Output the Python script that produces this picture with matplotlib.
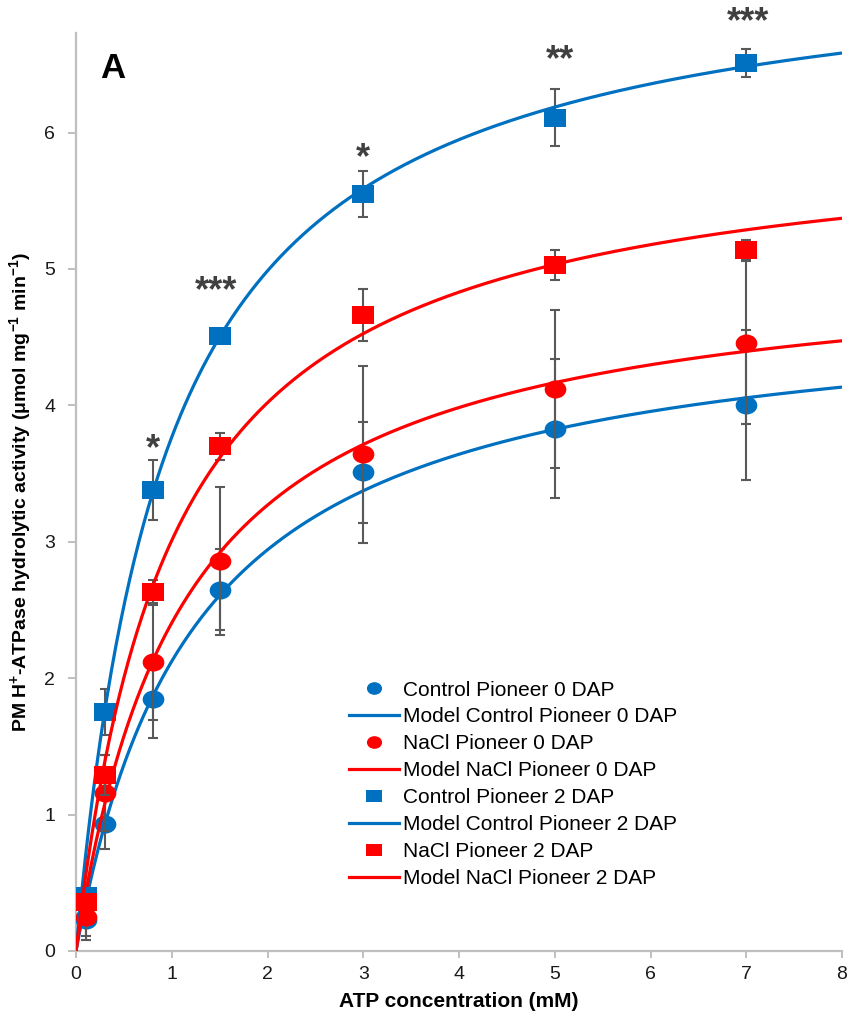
import numpy as np
import matplotlib
matplotlib.use("Agg")
import matplotlib.pyplot as plt
from matplotlib.path import Path
from matplotlib.lines import Line2D
import matplotlib.transforms as mtransforms

plt.rcParams['font.family'] = ['Liberation Sans', 'DejaVu Sans']
plt.rcParams['mathtext.fontset'] = 'custom'
plt.rcParams['mathtext.rm'] = 'Liberation Sans'
plt.rcParams['mathtext.bf'] = 'Liberation Sans:bold'
plt.rcParams['mathtext.it'] = 'Liberation Sans:italic'

# ---------------- data ----------------
atp_mM = [0.1, 0.3, 0.8, 1.5, 3, 5, 7]

control_0dap = [0.23, 0.93, 1.85, 2.65, 3.51, 3.83, 4.00]
control_0dap_err = [0.15, 0.18, 0.29, 0.30, 0.37, 0.51, 0.55]

nacl_0dap = [0.25, 1.16, 2.12, 2.86, 3.64, 4.12, 4.46]
nacl_0dap_err = [0.14, 0.28, 0.43, 0.54, 0.65, 0.58, 0.60]

control_2dap = [0.40, 1.75, 3.38, 4.51, 5.55, 6.11, 6.51]
control_2dap_err = [0.05, 0.17, 0.22, 0.05, 0.17, 0.21, 0.10]

nacl_2dap = [0.36, 1.29, 2.63, 3.70, 4.66, 5.03, 5.14]
nacl_2dap_err = [0.05, 0.15, 0.09, 0.10, 0.19, 0.11, 0.07]

# Michaelis-Menten model parameters (Vmax, Km) for each series
model_vmax = [4.78, 5.10, 7.37, 6.05]
model_km = [1.25, 1.12, 0.956, 1.01]

series_names = ["Control Pioneer 0 DAP", "NaCl Pioneer 0 DAP",
                "Control Pioneer 2 DAP", "NaCl Pioneer 2 DAP"]

sig_labels = ["*", "***", "*", "**", "***"]
sig_x = [0.8, 1.46, 3.0, 5.05, 7.02]
sig_y = [3.76, 4.92, 5.89, 6.61, 6.89]

x_ticks = [0, 1, 2, 3, 4, 5, 6, 7, 8]
y_ticks = [0, 1, 2, 3, 4, 5, 6]

# ---------------- style ----------------
BLUE = "#0070C0"
RED = "#FF0000"
GRID_GRAY = "#BFBFBF"
ERR_GRAY = "#595959"

ellipse = mtransforms.Affine2D().scale(1.2, 1.0).transform_path(Path.unit_circle())
rect = Path([(-0.6, -0.5), (0.6, -0.5), (0.6, 0.5), (-0.6, 0.5), (-0.6, -0.5)],
            [Path.MOVETO, Path.LINETO, Path.LINETO, Path.LINETO, Path.CLOSEPOLY])

values = [control_0dap, nacl_0dap, control_2dap, nacl_2dap]
errors = [control_0dap_err, nacl_0dap_err, control_2dap_err, nacl_2dap_err]
colors = [BLUE, RED, BLUE, RED]
markers = [ellipse, ellipse, rect, rect]

fig = plt.figure(figsize=(8.56, 10.16), dpi=100)
ax = fig.add_axes([0.0888, 0.0640, 0.8949, 0.9035])

xs = np.linspace(0, 8, 500)
handles, labels = [], []
for i in range(4):
    z = 3 + i * 3
    ax.errorbar(atp_mM, values[i], yerr=errors[i], fmt='none', ecolor=ERR_GRAY,
                elinewidth=1.5, capsize=3.8, capthick=1.5, zorder=z)
    ax.plot(atp_mM, values[i], linestyle='none', marker=markers[i], ms=15.6,
            color=colors[i], mec=colors[i], mew=0, zorder=z + 1)
    model = model_vmax[i] * xs / (model_km[i] + xs)
    ax.plot(xs, model, color=colors[i], lw=2.3, zorder=z + 2, solid_capstyle='butt')
    handles.append(Line2D([], [], linestyle='none', marker=markers[i], ms=15.6,
                          color=colors[i], mew=0))
    labels.append(series_names[i])
    handles.append(Line2D([], [], color=colors[i], lw=2.3))
    labels.append("Model " + series_names[i])

ax.set_xlim(0, 8)
ax.set_ylim(0, 6.73)
ax.set_xticks(x_ticks)
ax.set_yticks(y_ticks)
ax.tick_params(axis='both', direction='out', color=GRID_GRAY, width=1.4,
               labelsize=14, labelcolor='#1a1a1a')
ax.tick_params(axis='y', length=6, pad=9)
ax.tick_params(axis='x', length=5, pad=6)
for s in ['top', 'right']:
    ax.spines[s].set_visible(False)
for s in ['left', 'bottom']:
    ax.spines[s].set_color(GRID_GRAY)
    ax.spines[s].set_linewidth(1.6)

ax.set_xlabel("ATP concentration (mM)", fontsize=15, fontweight='bold', labelpad=6)
ax.set_ylabel(r"PM H$^{\mathbf{+}}$-ATPase hydrolytic activity ($\mathbf{\mu}$mol mg$^{\mathbf{-1}}$ min$^{\mathbf{-1}}$)",
              fontsize=14, fontweight='bold', labelpad=8)

star_fs = 26
star_trans = mtransforms.offset_copy(ax.transData, fig=fig, y=-0.58 * star_fs, units='points')
for lab, sx, sy in zip(sig_labels, sig_x, sig_y):
    ax.text(sx, sy, lab, transform=star_trans, ha='center', va='baseline',
            fontsize=star_fs, fontweight='bold', color='#404040', clip_on=False)

ax.text(0.031, 0.951, "A", transform=ax.transAxes, fontsize=25, fontweight='bold',
        va='baseline', ha='left')

leg = ax.legend(handles, labels, loc='upper left', bbox_to_anchor=(0.356, 0.2946),
                frameon=False, fontsize=15, markerscale=0.7, handlelength=2.4,
                handletextpad=0.2, labelspacing=0.38, borderpad=0, borderaxespad=0)

fig.savefig("out.png", dpi=100)
